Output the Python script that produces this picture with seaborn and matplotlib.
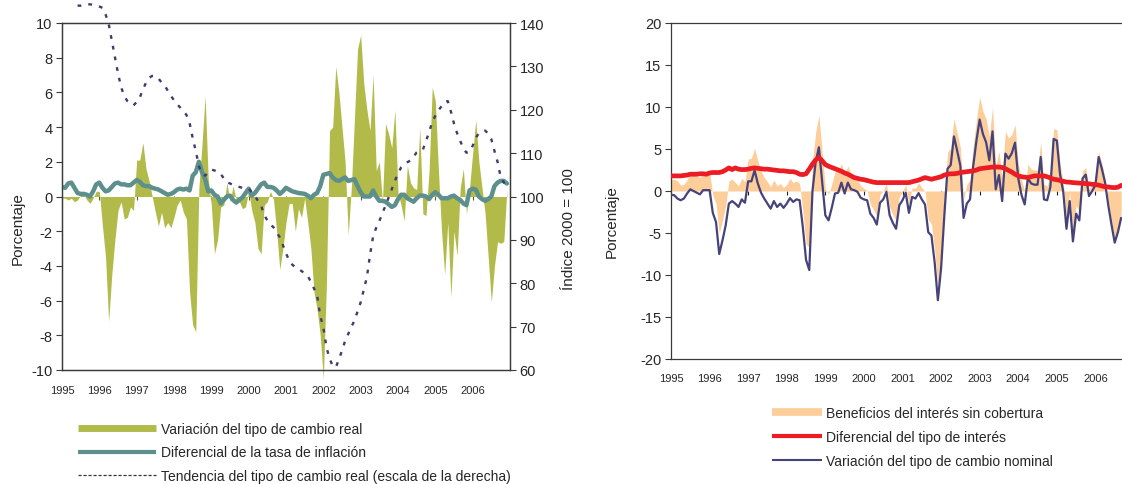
import matplotlib
matplotlib.use("Agg")
import matplotlib.pyplot as plt
import numpy as np
import pandas as pd
import seaborn as sns
from matplotlib.lines import Line2D

sns.set_style("white")
plt.rcParams["font.family"] = ["Liberation Sans", "DejaVu Sans"]
plt.rcParams["axes.unicode_minus"] = False

# ---- left panel: monthly data 1995-2006 ----
variacion_real = [
    -0.1, -0.1, -0.2, -0.1, -0.3, -0.2, 0.1, 0.1, -0.2, -0.4, -0.1, 0.3,
    0.3, -1.7, -3.5, -7.2, -4.5, -2.5, -0.8, -0.3, -1.3, -1.2, -0.6, -0.8,
    2.1, 2.1, 3.1, 1.6, 0.9, 0.0, -0.9, -1.7, -0.9, -1.8, -1.5, -1.8,
    -1.2, -0.5, -0.2, -0.9, -1.3, -5.5, -7.4, -7.8, 0.5, 3.0, 5.8, 1.0,
    -0.5, -3.3, -2.5, -0.6, -0.5, 0.8, -0.3, 0.6, -0.2, -0.3, -0.7, -0.6,
    0.3, -0.8, -1.5, -3.0, -3.3, -0.5, -0.3, 0.3, -0.2, -2.0, -4.2, -3.0,
    -1.5, -0.4, -0.4, -2.0, -0.7, -1.2, -0.1, -1.5, -3.0, -5.5, -6.5, -8.0,
    -10.5, -5.0, 3.8, 4.0, 7.5, 6.0, 4.0, 2.0, -2.2, 0.5, 4.5, 8.5,
    9.3, 6.5, 5.0, 3.8, 7.0, 1.5, 2.0, -0.3, 4.2, 3.6, 2.8, 5.0,
    0.2, -0.5, -1.4, 1.8, 0.8, 0.5, 0.4, 4.0, -1.0, -1.1, 1.5, 6.3,
    5.5, 1.5, -2.0, -4.5, -1.5, -5.8, -2.0, -3.4, 0.5, 1.6, -1.0, 0.5,
    2.5, 4.4, 2.0, 0.5, -1.0, -3.5, -6.1, -4.0, -2.6, -2.7, -2.6, 0.4,
]
diferencial_inflacion = [
    0.55, 0.5, 0.75, 0.8, 0.5, 0.2, 0.15, 0.15, 0.1, 0.0, 0.3, 0.7,
    0.8, 0.5, 0.3, 0.35, 0.55, 0.75, 0.8, 0.7, 0.7, 0.65, 0.65, 0.8,
    0.95, 0.85, 0.65, 0.6, 0.6, 0.5, 0.45, 0.4, 0.3, 0.2, 0.1, 0.15,
    0.25, 0.4, 0.45, 0.4, 0.45, 0.35, 1.2, 1.4, 2.0, 1.4, 1.0, 0.3,
    0.35, 0.1, 0.0, -0.4, -0.2, 0.0, 0.05, -0.2, -0.35, -0.2, -0.05, 0.2,
    0.45, 0.05, 0.2, 0.45, 0.7, 0.8, 0.55, 0.55, 0.5, 0.35, 0.15, 0.3,
    0.5, 0.4, 0.3, 0.25, 0.2, 0.18, 0.15, 0.05, -0.1, 0.1, 0.2, 0.6,
    1.25, 1.3, 1.35, 1.1, 0.95, 0.9, 1.0, 1.1, 0.9, 0.95, 1.0, 0.6,
    0.25, 0.0, 0.0, 0.0, 0.35, 0.0, -0.25, -0.25, -0.3, -0.45, -0.6, -0.5,
    -0.15, 0.1, 0.1, -0.1, -0.2, -0.3, -0.1, 0.05, 0.05, 0.0, -0.15, 0.1,
    0.25, 0.1, -0.1, -0.1, -0.1, 0.0, 0.05, -0.1, -0.2, -0.4, -0.5, 0.35,
    0.45, 0.4, 0.0, -0.15, -0.25, -0.15, 0.0, 0.6, 0.8, 0.9, 0.9, 0.75,
]
tendencia_real = [
    np.nan, np.nan, np.nan, np.nan, np.nan, 144.0, 144.0, 144.2, 144.3, 144.3, 144.2, 144.0,
    143.8, 143.5, 142.0, 139.8, 136.0, 132.2, 128.4, 125.2, 123.2, 122.0, 121.4, 121.0,
    121.8, 122.8, 124.7, 126.2, 127.4, 127.8, 127.8, 127.2, 126.3, 125.6, 124.4, 123.2,
    122.2, 121.3, 120.5, 119.8, 118.8, 117.0, 113.5, 110.5, 107.0, 105.3, 104.8, 105.6,
    106.2, 106.0, 105.8, 105.2, 104.2, 103.3, 103.0, 102.7, 102.4, 102.2, 102.0, 101.9,
    101.8, 101.0, 100.1, 99.0, 97.9, 95.7, 94.5, 93.5, 92.9, 91.7, 90.6, 88.8,
    86.9, 85.3, 84.3, 83.7, 83.3, 82.8, 82.3, 81.7, 80.3, 78.8, 77.2, 72.5,
    69.8, 65.3, 62.6, 61.0, 60.6, 62.4, 64.5, 66.7, 68.3, 69.9, 71.4, 73.5,
    75.6, 78.5, 81.4, 86.5, 90.8, 92.8, 94.3, 96.2, 97.9, 99.8, 101.7, 103.6,
    105.3, 106.7, 107.4, 107.9, 108.3, 109.1, 110.2, 110.7, 110.8, 112.8, 114.8, 117.2,
    118.6, 119.9, 120.8, 121.8, 122.0, 119.6, 116.8, 114.6, 112.8, 111.1, 110.1, 110.3,
    111.7, 113.5, 114.6, 115.0, 115.2, 114.5, 113.2, 110.5, 108.0, 104.5, 103.2, 103.0,
]

# ---- right panel: monthly data 1995 - Sep 2006 ----
beneficios = [
    1.4, 1.4, 1.2, 0.7, 0.8, 1.3, 2.2, 1.9, 1.8, 1.6, 2.1, 2.1,
    2.3, -0.5, -1.5, -5.0, -3.5, -1.8, 1.2, 1.4, 1.0, 0.6, 1.5, 1.1,
    3.8, 3.9, 5.1, 3.6, 2.4, 1.6, 1.1, 0.5, 1.3, 0.6, 0.9, 0.4,
    0.8, 1.5, 1.0, 1.2, 0.9, -2.3, -6.3, -6.7, 3.5, 7.0, 9.0, 4.7,
    0.3, -0.4, 0.8, 2.3, 2.3, 3.3, 1.9, 3.0, 2.0, 1.6, 1.4, 0.6,
    0.3, 0.1, -1.6, -2.2, -3.0, -0.4, 0.0, 0.9, -1.9, -2.8, -3.5, -0.7,
    -0.1, 0.8, -1.6, 0.4, 0.3, 1.0, 0.4, 0.0, -3.4, -3.9, -7.0, -11.4,
    -7.2, -1.1, 4.6, 5.1, 8.6, 6.9, 5.2, -1.0, 0.8, 1.3, 5.4, 8.5,
    11.2, 9.5, 8.6, 6.5, 10.0, 3.0, 4.7, 1.6, 7.1, 6.3, 6.7, 7.9,
    3.3, 1.3, 0.0, 3.2, 2.6, 2.5, 2.5, 5.8, 0.8, 0.6, 2.0, 7.4,
    7.3, 3.2, 1.0, -3.4, -0.1, -5.0, -1.7, -2.5, 2.4, 2.8, 0.2, 0.8,
    1.5, 4.7, 3.3, 1.5, -1.2, -3.5, -5.7, -4.5, -2.6,
]
diferencial_interes = [
    1.8, 1.8, 1.8, 1.8, 1.85, 1.9, 2.0, 2.0, 2.0, 2.05, 2.05, 2.0,
    2.15, 2.2, 2.2, 2.2, 2.3, 2.5, 2.75, 2.55, 2.75, 2.6, 2.55, 2.55,
    2.6, 2.7, 2.75, 2.7, 2.65, 2.6, 2.6, 2.55, 2.5, 2.45, 2.4, 2.4,
    2.35, 2.3, 2.3, 2.2, 2.0, 1.95, 2.05, 2.6, 3.2, 3.7, 4.0, 3.6,
    3.15, 2.95, 2.8, 2.65, 2.5, 2.35, 2.15, 2.0, 1.8, 1.6, 1.5, 1.4,
    1.35, 1.25, 1.15, 1.05, 1.0, 1.0, 1.0, 1.0, 1.0, 1.0, 1.0, 1.0,
    1.0, 1.0, 1.0, 1.1, 1.2, 1.3, 1.45, 1.6, 1.5, 1.4, 1.5, 1.6,
    1.7, 1.9, 2.0, 2.05, 2.05, 2.1, 2.2, 2.25, 2.3, 2.35, 2.4, 2.5,
    2.65, 2.7, 2.75, 2.8, 2.85, 2.85, 2.85, 2.8, 2.65, 2.45, 2.25, 2.0,
    1.8, 1.7, 1.65, 1.6, 1.7, 1.8, 1.8, 1.8, 1.8, 1.7, 1.55, 1.4,
    1.35, 1.25, 1.15, 1.07, 1.05, 1.0, 0.97, 0.95, 0.9, 0.87, 0.85, 0.8,
    0.77, 0.7, 0.6, 0.5, 0.48, 0.42, 0.4, 0.45, 0.67,
]
variacion_nominal = [
    -0.45, -0.5, -0.9, -1.1, -0.9, -0.3, 0.2, 0.0, -0.2, -0.4, 0.1, 0.1,
    0.1, -2.6, -3.7, -7.5, -5.9, -4.1, -1.5, -1.2, -1.5, -1.9, -1.0, -1.4,
    1.15, 1.15, 2.45, 0.9, -0.2, -0.9, -1.5, -2.1, -1.2, -1.9, -1.5, -2.0,
    -1.5, -0.85, -1.3, -1.0, -1.1, -4.3, -8.2, -9.4, 0.0, 3.5, 5.2, 1.1,
    -2.9, -3.5, -2.0, -0.3, -0.2, 1.0, -0.3, 1.0, 0.2, 0.1, -0.1, -0.8,
    -1.0, -1.1, -2.7, -3.2, -4.0, -1.4, -1.0, -0.1, -2.9, -3.8, -4.5, -1.7,
    -1.1, -0.2, -2.6, -0.7, -0.9, -0.25, -1.0, -1.6, -4.9, -5.3, -8.5, -13.0,
    -9.2, -3.0, 2.65, 3.1, 6.5, 4.8, 3.0, -3.2, -1.5, -1.0, 3.0, 6.0,
    8.5, 6.8, 5.8, 3.65, 7.1, 0.2, 1.9, -1.2, 4.45, 3.85, 4.5, 5.75,
    1.5, -0.45, -1.6, 1.55, 0.9, 0.75, 0.75, 4.05, -1.0, -1.1, 0.5, 6.2,
    6.0, 2.0, -0.1, -4.5, -1.2, -6.0, -2.7, -3.5, 1.5, 1.95, -0.6, 0.0,
    0.7, 4.05, 2.65, 1.0, -1.7, -4.0, -6.15, -4.9, -3.2,
]

years = ["1995", "1996", "1997", "1998", "1999", "2000",
         "2001", "2002", "2003", "2004", "2005", "2006"]
year_ticks = [12 * k for k in range(len(years))]

left_df = pd.DataFrame({
    "mes": np.arange(len(variacion_real)),
    "real": variacion_real,
    "inflacion": diferencial_inflacion,
    "tendencia": tendencia_real,
})
right_df = pd.DataFrame({
    "mes": np.arange(len(beneficios)),
    "beneficios": beneficios,
    "interes": diferencial_interes,
    "nominal": variacion_nominal,
})

OLIVE = "#b2bb4a"
TEAL = "#5d908c"
DASH = "#3f3d6e"
PEACH = "#fdcd9a"
RED = "#ec1c24"
NAVY = "#45437a"
FRAME = "#3a3a3a"

fig = plt.figure(figsize=(11.22, 4.85), dpi=100)

# ================= left panel =================
ax = fig.add_axes([62 / 1122, 1 - 371 / 485, 448 / 1122, 347 / 485])
ax.fill_between(left_df["mes"], 0, left_df["real"], color=OLIVE, lw=0,
                clip_on=False, zorder=1)
sns.lineplot(data=left_df, x="mes", y="inflacion", ax=ax, color=TEAL,
             lw=3.2, zorder=3)
ax.set_xlim(0, 144)
ax.set_ylim(-10, 10)
ax.set_yticks(np.arange(-10, 11, 2))
ax.set_xticks(year_ticks)
ax.set_xticklabels(years)
ax.tick_params(axis="x", length=0, pad=11, labelsize=8)
ax.tick_params(axis="y", length=4, width=0.8, color=FRAME, direction="out",
               left=True, pad=3, labelsize=10.5)
ax.set_xlabel("")
ax.set_ylabel("")
for s in ax.spines.values():
    s.set_color(FRAME)
    s.set_linewidth(0.9)
zero_l = ax.secondary_xaxis(0.5)
zero_l.set_xticks(year_ticks)
zero_l.tick_params(direction="in", length=3, width=0.8, color="#5a5a3c",
                   labelbottom=False, labeltop=False)
zero_l.spines["bottom"].set_color("#5a5a3c")
zero_l.spines["bottom"].set_linewidth(1.3)
zero_l.spines["top"].set_visible(False)

ax2 = ax.twinx()
sns.lineplot(data=left_df, x="mes", y="tendencia", ax=ax2, color=DASH,
             lw=1.7, linestyle=(0, (1.6, 3.0)), clip_on=False)
ax2.set_ylim(60, 140)
ax2.set_yticks(np.arange(60, 141, 10))
ax2.set_ylabel("")
ax2.tick_params(axis="y", length=4, width=0.8, color=FRAME, direction="out",
                right=True, pad=3, labelsize=10.5)
for s in ax2.spines.values():
    s.set_color(FRAME)
    s.set_linewidth(0.9)

fig.text(18 / 1122, 1 - 229 / 485, "Porcentaje", rotation=90,
         ha="center", va="center", fontsize=11)
fig.text(569 / 1122, 1 - 229 / 485, "Índice 2000 = 100", rotation=90,
         ha="center", va="center", fontsize=11)

left_handles = [
    Line2D([], [], color=OLIVE, lw=5, solid_capstyle="butt"),
    Line2D([], [], color=TEAL, lw=3, solid_capstyle="butt"),
    Line2D([], [], color="#333333", lw=0.9, linestyle=(0, (2.5, 1.5))),
]
left_labels = ["Variación del tipo de cambio real",
               "Diferencial de la tasa de inflación",
               "Tendencia del tipo de cambio real (escala de la derecha)"]
fig.legend(left_handles, left_labels, loc="upper left",
           bbox_to_anchor=(78 / 1122, 1 - 423 / 485), frameon=False,
           fontsize=10, handlelength=5.6, handletextpad=0.4,
           labelspacing=0.68, borderpad=0, borderaxespad=0)

# ================= right panel =================
axr = fig.add_axes([671 / 1122, 1 - 360 / 485, 463 / 1122, 336 / 485])
axr.fill_between(right_df["mes"], 0, right_df["beneficios"], color=PEACH,
                 lw=0, zorder=1)
sns.lineplot(data=right_df, x="mes", y="nominal", ax=axr, color=NAVY,
             lw=1.6, zorder=3)
sns.lineplot(data=right_df, x="mes", y="interes", ax=axr, color=RED,
             lw=3.4, zorder=4)
axr.set_xlim(0, 144)
axr.set_ylim(-20, 20)
axr.set_yticks(np.arange(-20, 21, 5))
axr.set_xticks(year_ticks)
axr.set_xticklabels(years)
axr.tick_params(axis="x", length=0, pad=10, labelsize=8)
axr.tick_params(axis="y", length=4, width=0.8, color=FRAME, direction="out",
                left=True, pad=3, labelsize=10.5)
axr.set_xlabel("")
axr.set_ylabel("")
for s in axr.spines.values():
    s.set_color(FRAME)
    s.set_linewidth(0.9)
zero_r = axr.secondary_xaxis(0.5)
zero_r.set_xticks(year_ticks)
zero_r.tick_params(direction="in", length=3, width=0.8, color="#222222",
                   labelbottom=False, labeltop=False)
zero_r.spines["bottom"].set_color("#222222")
zero_r.spines["bottom"].set_linewidth(1.0)
zero_r.spines["top"].set_visible(False)

fig.text(612 / 1122, 1 - 222 / 485, "Porcentaje", rotation=90,
         ha="center", va="center", fontsize=11)

right_handles = [
    Line2D([], [], color=PEACH, lw=5.5, solid_capstyle="butt"),
    Line2D([], [], color=RED, lw=3, solid_capstyle="butt"),
    Line2D([], [], color=NAVY, lw=1.5, solid_capstyle="butt"),
]
right_labels = ["Beneficios del interés sin cobertura",
                "Diferencial del tipo de interés",
                "Variación del tipo de cambio nominal"]
fig.legend(right_handles, right_labels, loc="upper left",
           bbox_to_anchor=(772 / 1122, 1 - 407 / 485), frameon=False,
           fontsize=10, handlelength=3.6, handletextpad=0.3,
           labelspacing=0.72, borderpad=0, borderaxespad=0)

fig.savefig("out.png", dpi=100)
